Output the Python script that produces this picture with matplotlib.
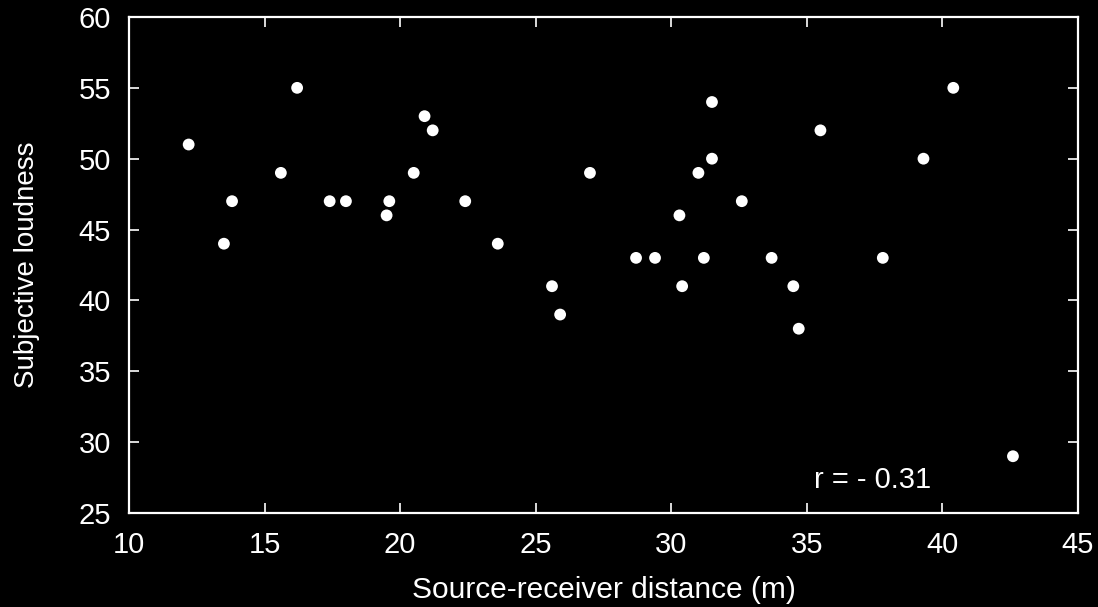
import matplotlib
matplotlib.use('Agg')
import matplotlib.pyplot as plt

# distance (m) vs subjective loudness
distance = [12.2, 13.5, 13.8, 15.6, 16.2, 17.4, 18.0, 19.5, 19.6, 20.5,
            20.9, 21.2, 22.4, 23.6, 25.6, 25.9, 27.0, 28.7, 29.4, 30.3,
            30.4, 31.0, 31.2, 31.5, 31.5, 32.6, 33.7, 34.5, 34.7, 35.5,
            37.8, 39.3, 40.4, 42.6]
loudness = [51, 44, 47, 49, 55, 47, 47, 46, 47, 49,
            53, 52, 47, 44, 41, 39, 49, 43, 43, 46,
            41, 49, 43, 54, 50, 47, 43, 41, 38, 52,
            43, 50, 55, 29]
x_ticks = [10, 15, 20, 25, 30, 35, 40, 45]
y_ticks = [25, 30, 35, 40, 45, 50, 55, 60]
r_label = 'r = - 0.31'

plt.rcParams['font.family'] = ['Liberation Sans', 'DejaVu Sans']

fig = plt.figure(figsize=(10.98, 6.07), dpi=100, facecolor='black')
ax = fig.add_axes([0.1175, 0.155, 0.8643, 0.817], facecolor='black')

ax.scatter(distance, loudness, s=72, color='white', edgecolors='none', zorder=3, clip_on=False)

ax.set_xlim(10, 45)
ax.set_ylim(25, 60)
ax.set_xticks(x_ticks)
ax.set_yticks(y_ticks)

for side in ax.spines.values():
    side.set_color('white')
    side.set_linewidth(1.6)

ax.tick_params(direction='in', length=7, width=1.2, colors='white',
               labelsize=21, top=True, right=True, pad=13)

ax.set_xlabel('Source-receiver distance (m)', color='white', fontsize=21.5)
ax.set_ylabel('Subjective loudness', color='white', fontsize=20)
ax.xaxis.set_label_coords(0.5, -0.128)
ax.yaxis.set_label_coords(-0.094, 0.5)

ax.text(37.42, 26.76, r_label, color='white', fontsize=21, ha='center', va='baseline')

fig.savefig('out.png', dpi=100, facecolor='black')
